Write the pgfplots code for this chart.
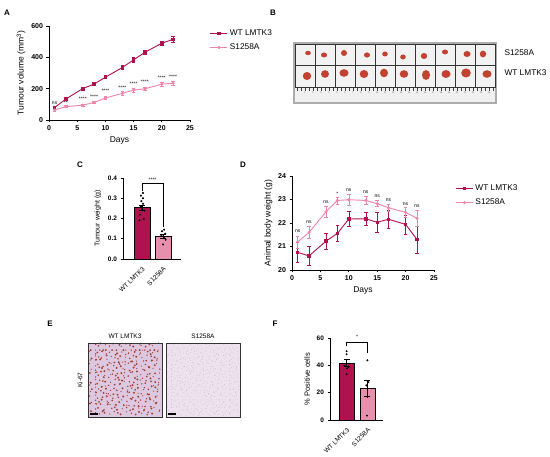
\documentclass[border=0pt]{standalone}
\usepackage{pgfplots}
\pgfplotsset{compat=1.18}
\usepackage{fontspec}
\setmainfont{Liberation Sans}
\definecolor{wt}{HTML}{B0124F}
\definecolor{sa}{HTML}{EE85A8}
\definecolor{sabar}{HTML}{E790AD}
\definecolor{tum}{HTML}{C2412F}
\definecolor{ihcbg}{HTML}{DDC8E2}
\definecolor{ihcdot}{HTML}{A8432F}
\definecolor{ihcbg2}{HTML}{EFE2EF}
\definecolor{ihcfaint}{HTML}{CFB5D8}
\pgfplotsset{gp/.style={
  scale only axis, axis lines*=left,
  axis line style={line width=0.9pt,-},
  every tick/.style={line width=0.8pt,black},
  tick align=outside, major tick length=2.5pt,
  tick label style={font=\fontsize{7}{8}\selectfont\bfseries},
  label style={font=\fontsize{8.5}{9}\selectfont},
  /pgf/number format/assume math mode=true,
  clip=false}}
\tikzset{sig/.style={font=\fontsize{5}{5}\selectfont, inner sep=0pt}}
\begin{document}
\begin{tikzpicture}
\path[fill=white,use as bounding box] (0,0) rectangle (550pt,-457pt);

% ---------- A ----------
\begin{axis}[gp, at={(49pt,-120pt)}, anchor=south west, width=141pt, height=94pt,
  xmin=0, xmax=25, ymin=0, ymax=600, xtick={0,5,...,25}, ytick={0,200,400,600},
  xlabel={Days}, ylabel={Tumour volume (mm\textsuperscript{3})},
  xlabel style={yshift=1pt}, ylabel style={yshift=-1pt},
  legend style={at={(1.14,0.985)}, anchor=north west, draw=none, fill=none,
    font=\fontsize{8.3}{9}\selectfont, row sep=3pt, inner sep=0pt},
  legend cell align=left]
\addplot[wt, line width=0.9pt, mark=square*, mark size=1.2pt,
  error bars/.cd, y dir=both, y explicit, error bar style={line width=0.6pt},
  error mark options={rotate=90, mark size=1.8pt, line width=0.6pt}]
  table[x=x, y=y, y error=e] {
x y e
1 80 8
3 134 8
6 201 10
8 229 9
10 273 10
13 335 12
15 384 15
17 432 12
20 490 15
22 515 20
};
\addlegendentry{WT LMTK3}
\addplot[sa, line width=0.9pt, mark=*, mark size=1pt,
  error bars/.cd, y dir=both, y explicit, error bar style={line width=0.6pt},
  error mark options={rotate=90, mark size=1.8pt, line width=0.6pt}]
  table[x=x, y=y, y error=e] {
x y e
1 64 6
3 85 6
6 95 6
8 112 7
10 140 9
13 170 10
15 191 12
17 199 12
20 229 14
22 235 15
};
\addlegendentry{S1258A}
\node[sig] at (axis cs:1,108) {ns};
\node[sig] at (axis cs:3,110) {**};
\node[sig] at (axis cs:6,134) {****};
\node[sig] at (axis cs:8,149) {****};
\node[sig] at (axis cs:10,185) {****};
\node[sig] at (axis cs:13,206) {****};
\node[sig] at (axis cs:15,234) {****};
\node[sig] at (axis cs:17,245) {****};
\node[sig] at (axis cs:20,272) {****};
\node[sig] at (axis cs:22,277) {****};
\end{axis}

% ---------- C ----------
\begin{axis}[gp, at={(123pt,-259pt)}, anchor=south west, width=58pt, height=81pt,
  xmin=-0.9, xmax=1.85, ymin=0, ymax=0.4, ytick={0,0.1,0.2,0.3,0.4},
  yticklabel style={/pgf/number format/.cd, fixed, fixed zerofill, precision=1},
  tick label style={font=\fontsize{6.5}{7}\selectfont\bfseries},
  xtick={0,1}, xticklabels={WT LMTK3,S1258A}, major x tick style={draw=none},
  xticklabel style={rotate=45, anchor=north east, font=\fontsize{6.5}{7}\selectfont},
  ylabel={Tumour weight (g)}, ylabel style={font=\fontsize{7}{8}\selectfont}]
\addplot[ybar, bar width=0.75, fill=wt, draw=black, line width=0.6pt] coordinates {(0,0.253)};
\addplot[ybar, bar width=0.75, fill=sabar, draw=black, line width=0.6pt] coordinates {(1,0.11)};
\addplot[draw=none, mark=none, error bars/.cd, y dir=both, y explicit,
  error bar style={line width=0.6pt,black}, error mark options={rotate=90, mark size=3pt, line width=0.6pt, black}]
  coordinates {(0,0.253) +- (0,0.013) (1,0.11) +- (0,0.01)};
\addplot[only marks, mark=*, mark size=0.8pt, black] coordinates {
(0.05,0.326) (-0.05,0.313) (0.05,0.30) (-0.03,0.286) (0.05,0.273) (-0.05,0.26) (0.0,0.247)
(0.12,0.239) (-0.1,0.219) (0.08,0.198) (-0.12,0.191)
(1.05,0.145) (0.95,0.137) (1.1,0.125) (0.92,0.115) (1.05,0.105) (1.12,0.095) (1.0,0.072)};
\addplot[black, line width=0.6pt, mark=none] coordinates {(0,0.335) (0,0.375) (1,0.375) (1,0.16)};
\node[sig] at (axis cs:0.5,0.392) {****};
\end{axis}

% ---------- D ----------
\begin{axis}[gp, at={(292pt,-270pt)}, anchor=south west, width=142pt, height=94pt,
  xmin=0, xmax=25, ymin=20, ymax=24, xtick={0,5,...,25}, ytick={20,21,22,23,24},
  xlabel={Days}, ylabel={Animal body weight (g)},
  xlabel style={yshift=1pt}, ylabel style={yshift=-1pt},
  legend style={at={(1.15,0.93)}, anchor=north west, draw=none, fill=none,
    font=\fontsize{8.3}{9}\selectfont, row sep=3pt, inner sep=0pt},
  legend cell align=left]
\addplot[wt, line width=0.9pt, mark=square*, mark size=1.2pt,
  error bars/.cd, y dir=both, y explicit, error bar style={line width=0.6pt},
  error mark options={rotate=90, mark size=1.8pt, line width=0.6pt}]
  table[x=x, y=y, y error=e] {
x y e
1 20.75 0.41
3 20.60 0.41
6 21.23 0.33
8 21.56 0.35
10 22.17 0.32
13 22.18 0.29
15 22.03 0.41
17 22.16 0.38
20 21.94 0.40
22 21.30 0.58
};
\addlegendentry{WT LMTK3}
\addplot[sa, line width=0.9pt, mark=*, mark size=1pt,
  error bars/.cd, y dir=both, y explicit, error bar style={line width=0.6pt},
  error mark options={rotate=90, mark size=1.8pt, line width=0.6pt}]
  table[x=x, y=y, y error=e] {
x y e
1 21.19 0.25
3 21.60 0.24
6 22.48 0.22
8 22.96 0.15
10 22.99 0.24
13 22.96 0.17
15 22.82 0.13
17 22.65 0.15
20 22.45 0.20
22 22.20 0.35
};
\addlegendentry{S1258A}
\node[sig] at (axis cs:1,21.65) {ns};
\node[sig] at (axis cs:3,22.05) {ns};
\node[sig] at (axis cs:6,22.90) {ns};
\node[sig] at (axis cs:8,23.25) {*};
\node[sig] at (axis cs:10,23.4) {ns};
\node[sig] at (axis cs:13,23.3) {ns};
\node[sig] at (axis cs:15,23.12) {ns};
\node[sig] at (axis cs:17,22.98) {ns};
\node[sig] at (axis cs:20,22.82) {ns};
\node[sig] at (axis cs:22,22.72) {ns};
\end{axis}

% ---------- F ----------
\begin{axis}[gp, at={(330pt,-420pt)}, anchor=south west, width=53pt, height=82pt,
  xmin=-0.8, xmax=1.75, ymin=0, ymax=60, ytick={0,20,40,60},
  tick label style={font=\fontsize{6.5}{7}\selectfont\bfseries},
  xtick={0,1}, xticklabels={WT LMTK3,S1258A}, major x tick style={draw=none},
  xticklabel style={rotate=45, anchor=north east, font=\fontsize{6.5}{7}\selectfont},
  ylabel={\% Positive cells}, ylabel style={font=\fontsize{7.5}{8}\selectfont}]
\addplot[ybar, bar width=0.72, fill=wt, draw=black, line width=0.6pt] coordinates {(0,41.8)};
\addplot[ybar, bar width=0.72, fill=sabar, draw=black, line width=0.6pt] coordinates {(1,23.1)};
\addplot[draw=none, mark=none, error bars/.cd, y dir=both, y explicit,
  error bar style={line width=0.6pt,black}, error mark options={rotate=90, mark size=3pt, line width=0.6pt, black}]
  coordinates {(0,41.8) +- (0,2.6) (1,23.1) +- (0,5.8)};
\addplot[only marks, mark=*, mark size=0.8pt, black] coordinates {
(0.0,50.3) (0.0,48.1) (-0.1,39.6) (0.1,38.9) (0.02,37.7) (0.0,33.5)
(1.0,43.7) (1.05,27.7) (0.95,25.3) (1.0,17) (0.98,3.2)};
\addplot[black, line width=0.6pt, mark=none] coordinates {(0,54) (0,57) (1,57) (1,49)};
\node[sig] at (axis cs:0.5,61) {*};
\end{axis}

\begin{scope}[x=1pt,y=-1pt]
% panel letters
\foreach \l/\x/\y in {A/7/13, B/273/13, C/80/165, D/243/165, E/50/324, F/275/324}
  \node[font=\fontsize{8}{9}\selectfont\bfseries] at (\x,\y) {\l};

% ---------- B photo ----------
\fill[gray!65] (293,42) rectangle (497,104);
\fill[gray!30] (295,44) rectangle (495,88);
\foreach \i in {0,...,9}{
  \draw[gray!40!black, line width=0.6pt, fill=gray!10] (295+\i*20,44) rectangle (315+\i*20,65.5);
  \draw[gray!40!black, line width=0.6pt, fill=gray!10] (295+\i*20,65.5) rectangle (315+\i*20,87);
}
\fill[gray!12] (295,88.5) rectangle (495,102);
\foreach \k in {0,...,49}
  \draw[gray!50!black, line width=0.25pt] (297+\k*4,88.5) -- ++(0,2.2);
\foreach \k in {1,...,24}
  \node[font=\fontsize{2}{2}\selectfont, gray!50!black, inner sep=0pt] at (297+\k*8,93) {\k};
\foreach \x/\y/\a/\b in {308/53/2.8/2.2, 324/55/3/2.5, 344/53/3/3, 367/55/3/2.6, 385/54/2.8/2.5,
  403/57/2.8/2.5, 424/56/3.2/3, 445/52/3/2.5, 467/54/3.5/3, 483/54/3.2/3.4,
  307/76/4.2/4, 325/74/4/3.8, 344/73/4.5/3.8, 364/74/4.3/4, 384/73/4/4.3,
  404/74/4.3/3.8, 426/75/4/5, 446/74/4.5/4, 466/73/4.8/4.5, 487/74/4.5/3.8}
  \fill[tum] (\x,\y) ellipse [x radius=\a pt, y radius=\b pt];
\node[font=\fontsize{8.3}{9}\selectfont, anchor=west] at (501,53) {S1258A};
\node[font=\fontsize{8.3}{9}\selectfont, anchor=west] at (501,73) {WT LMTK3};

% ---------- E images ----------
\fill[ihcbg] (88,343) rectangle (162,417);
\begin{scope}
\clip (88,343) rectangle (162,417);
\foreach \i in {0,...,17}{\foreach \j in {0,...,17}{%
  \pgfmathsetmacro\xx{90+\i*4.0+mod(\i*\i*17+\j*31+\i*\j*7,19)*0.2-1.8}%
  \pgfmathsetmacro\yy{345+\j*4.0+mod(\j*\j*13+\i*23+\i*\j*11,17)*0.22-1.8}%
  \pgfmathsetmacro\rr{0.65+mod(\i*5+\j*\j*3,4)*0.15}%
  \fill[ihcdot] (\xx,\yy) circle[radius=\rr pt];}}
\end{scope}
\draw[black!80, line width=0.8pt] (88,343) rectangle (162,417);
\draw[black, line width=1.2pt] (90,414) -- (98,414);
\fill[ihcbg2] (166,343) rectangle (240,417);
\begin{scope}
\clip (166,343) rectangle (240,417);
\foreach \i in {0,...,23}{\foreach \j in {0,...,23}{%
  \pgfmathsetmacro\xx{167.3+\i*3.05+mod(\i*\i*17+\j*31+\i*\j*7,19)*0.15-1.4}%
  \pgfmathsetmacro\yy{344.3+\j*3.05+mod(\j*\j*13+\i*23+\i*\j*11,17)*0.16-1.4}%
  \fill[ihcfaint] (\xx,\yy) circle[radius=0.45pt];}}
\end{scope}
\draw[black!80, line width=0.8pt] (166,343) rectangle (240,417);
\draw[black, line width=1.2pt] (168,414) -- (176,414);
\node[font=\fontsize{6.5}{7}\selectfont] at (125,336) {WT LMTK3};
\node[font=\fontsize{6.5}{7}\selectfont] at (203,336) {S1258A};
\node[font=\fontsize{6.5}{7}\selectfont, rotate=90] at (80,380) {Ki-67};
\end{scope}
\end{tikzpicture}
\end{document}
